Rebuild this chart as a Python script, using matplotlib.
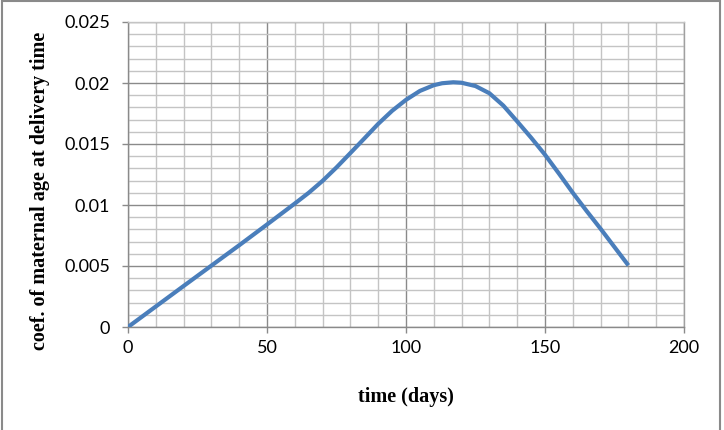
import matplotlib
matplotlib.use("Agg")
import matplotlib.pyplot as plt
from matplotlib.patches import Rectangle
from matplotlib.ticker import MultipleLocator

days = [0, 10, 20, 30, 40, 50, 60, 65, 70, 75, 80, 85, 90, 95, 100, 105, 110, 113, 117, 120, 125,
        130, 135, 140, 145, 150, 155, 160, 165, 170, 175, 180]
coef = [0.0, 0.00168, 0.00336, 0.00503, 0.00670, 0.00840, 0.01012, 0.01100, 0.01198, 0.01308,
        0.01426, 0.01545, 0.01665, 0.01772, 0.01862, 0.01935, 0.01982, 0.01998, 0.02006, 0.02002,
        0.01975, 0.01916, 0.01815, 0.01685, 0.01552, 0.01412, 0.01258, 0.01100, 0.00950, 0.00805,
        0.00655, 0.00505]
x_ticks = [0, 50, 100, 150, 200]
y_ticks = [0, 0.005, 0.01, 0.015, 0.02, 0.025]
y_tick_labels = ["0", "0.005", "0.01", "0.015", "0.02", "0.025"]

fig = plt.figure(figsize=(7.24, 4.30), dpi=100)
ax = fig.add_axes([128/724, 1-327/430, (684-128)/724, (327-22)/430])

ax.plot(days, coef, color="#4a7ebb", linewidth=3.0, solid_capstyle="butt",
        solid_joinstyle="round", zorder=5)

ax.set_xlim(0, 200)
ax.set_ylim(0, 0.025)
ax.set_xticks(x_ticks)
ax.set_yticks(y_ticks)
ax.set_yticklabels(y_tick_labels)
ax.xaxis.set_minor_locator(MultipleLocator(10))
ax.yaxis.set_minor_locator(MultipleLocator(0.001))

ax.grid(which="minor", color="#c4c4c4", linewidth=1.0)
ax.grid(which="major", color="#8a8a8a", linewidth=1.0)
ax.set_axisbelow(True)

for s in ["left", "bottom", "right", "top"]:
    ax.spines[s].set_color("#8a8a8a")
    ax.spines[s].set_linewidth(1.0)
ax.spines["top"].set_color("#c4c4c4")
ax.spines["right"].set_color("#a0a0a0")

ax.tick_params(which="major", direction="out", length=4.3, color="#8a8a8a", width=1.0,
               labelsize=13)
ax.tick_params(axis="y", which="major", pad=8.5)
ax.tick_params(axis="x", which="major", pad=5)
ax.tick_params(which="minor", length=0)
for lab in ax.get_xticklabels() + ax.get_yticklabels():
    lab.set_family(["Lato", "DejaVu Sans"])

ax.set_xlabel("time (days)", fontsize=14.5, fontweight="bold", family=["Liberation Serif"], labelpad=22)
ax.set_ylabel("coef. of maternal age at delivery time", fontsize=14.5, fontweight="bold",
              family=["Liberation Serif"])
ax.yaxis.set_label_coords((40 - 128) / 556, (327 - 191) / 305)
ax.xaxis.set_label_coords((406 - 128) / 556, (327 - 397) / 305)
ax.xaxis.label.set_verticalalignment("center")
ax.yaxis.label.set_verticalalignment("center")

fig.patches.append(Rectangle((0.003, -0.01), 0.992, 1.007, transform=fig.transFigure,
                             fill=False, edgecolor="#8a8a8a", linewidth=1.5))

fig.savefig("out.png", dpi=100)
